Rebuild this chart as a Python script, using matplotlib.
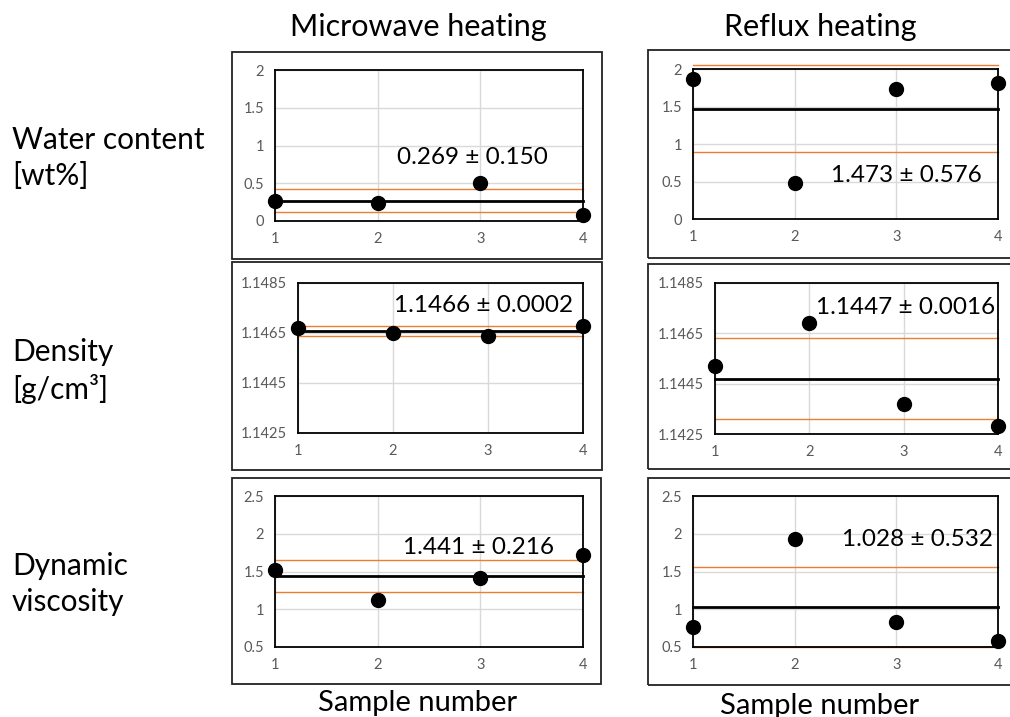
import matplotlib
matplotlib.use("Agg")
import matplotlib.pyplot as plt
from matplotlib.patches import Rectangle
from matplotlib.ticker import FuncFormatter

plt.rcParams['font.family'] = ['Lato', 'DejaVu Sans']

# sample numbers on the x axis
samples = [1, 2, 3, 4]

# measured values, microwave heating
mw_water = [0.26, 0.24, 0.50, 0.08]
mw_density = [1.1467, 1.1465, 1.1464, 1.1468]
mw_visc = [1.52, 1.12, 1.41, 1.72]

# measured values, reflux heating
rf_water = [1.87, 0.48, 1.73, 1.81]
rf_density = [1.1452, 1.1469, 1.1437, 1.1428]
rf_visc = [0.77, 1.93, 0.83, 0.58]

# mean and standard deviation per property (water, density, viscosity)
mw_mean = [0.269, 1.1466, 1.441]
mw_std = [0.150, 0.0002, 0.216]
rf_mean = [1.473, 1.1447, 1.028]
rf_std = [0.576, 0.0016, 0.532]
decimals = [3, 4, 3]

col_titles = ['Microwave heating', 'Reflux heating']
row_labels = ['Water content\n[wt%]', 'Density\n[g/cm³]', 'Dynamic\nviscosity']
y_ticks = [[0, 0.5, 1, 1.5, 2],
           [1.1425, 1.1445, 1.1465, 1.1485],
           [0.5, 1, 1.5, 2, 2.5]]

W, H = 1010, 717
fig = plt.figure(figsize=(W / 100, H / 100), dpi=100)


def fbox(l, t, r, b):
    # pixel box -> figure fraction [left, bottom, width, height]
    return [l / W, 1 - b / H, (r - l) / W, (b - t) / H]


# plot areas (pixels) and the frames around each chart
plot_px = [[(275, 70, 583, 221), (693, 69, 998, 219)],
           [(298, 283, 583, 433), (715, 283, 998, 434)],
           [(275, 496, 583, 647), (693, 496, 998, 647)]]
frame_px = [[(232, 52, 602, 259), (648, 50, 1016, 258)],
            [(232, 262, 602, 470), (648, 264, 1016, 469)],
            [(232, 478, 601, 684), (648, 478, 1016, 685)]]
# label centres in axes coords
label_pos = [[(0.64, 0.42), (0.70, 0.29)],
             [(0.65, 0.85), (0.675, 0.84)],
             [(0.66, 0.66), (0.735, 0.71)]]

data = [[mw_water, rf_water], [mw_density, rf_density], [mw_visc, rf_visc]]
means = [mw_mean, rf_mean]
stds = [mw_std, rf_std]

for r in range(3):
    for c in range(2):
        l, t, rr, b = frame_px[r][c]
        fb = fbox(l, t, rr, b)
        fig.add_artist(Rectangle((fb[0], fb[1]), fb[2], fb[3], transform=fig.transFigure,
                                 fill=False, edgecolor='#222222', linewidth=1.3))

        ax = fig.add_axes(fbox(*plot_px[r][c]))
        ax.set_xlim(1, 4)
        ax.set_ylim(y_ticks[r][0], y_ticks[r][-1])
        ax.set_xticks(samples)
        ax.set_yticks(y_ticks[r])
        ax.yaxis.set_major_formatter(FuncFormatter(lambda v, p: '{:g}'.format(round(v, 6))))
        ax.grid(True, color='#d9d9d9', linewidth=1.0)
        ax.set_axisbelow(True)
        for s in ax.spines.values():
            s.set_color('black')
            s.set_linewidth(1.3)
        ax.tick_params(length=0, labelsize=10.5, labelcolor='#595959')
        ax.tick_params(axis='x', pad=8)
        ax.tick_params(axis='y', pad=8)

        m = means[c][r]
        sd = stds[c][r]
        ax.axhline(m, color='black', linewidth=2.0, clip_on=False)
        ax.axhline(m + sd, color='#ED7D31', linewidth=1.0, clip_on=False)
        ax.axhline(m - sd, color='#ED7D31', linewidth=1.0, clip_on=False)
        ax.plot(samples, data[r][c], 'o', color='black', markersize=10, clip_on=False, zorder=5)

        d = decimals[r]
        txt = '{:.{d}f} ± {:.{d}f}'.format(m, sd, d=d)
        lx, ly = label_pos[r][c]
        ax.text(lx, ly, txt, transform=ax.transAxes, ha='center', va='center',
                fontsize=17.5, color='black', zorder=6)

# column titles and x labels
fig.text(418 / W, 1 - 27 / H, col_titles[0], ha='center', va='center', fontsize=22)
fig.text(820 / W, 1 - 27 / H, col_titles[1], ha='center', va='center', fontsize=22)
fig.text(418 / W, 1 - 703 / H, 'Sample number', ha='center', va='center', fontsize=21)
fig.text(820 / W, 1 - 706 / H, 'Sample number', ha='center', va='center', fontsize=21)

# row labels
for lab, yc in zip(row_labels, [158, 371, 584]):
    fig.text(12 / W, 1 - yc / H, lab, ha='left', va='center', fontsize=21.5, linespacing=1.35)

fig.savefig('out.png', dpi=100)
